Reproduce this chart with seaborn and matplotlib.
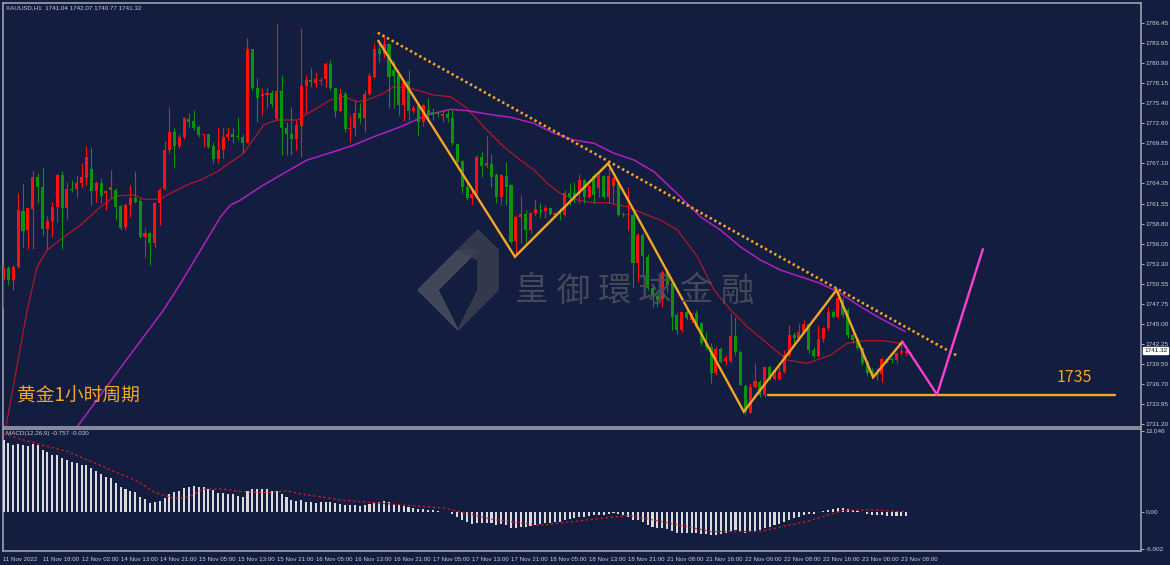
import numpy as np
import pandas as pd
import matplotlib
matplotlib.use("Agg")
import matplotlib.pyplot as plt
import seaborn as sns
from matplotlib.patches import Polygon

# ---------------- data ----------------
bar_open = [1751.06,1752.66,1751.06,1752.8,1760.6,1757.94,1760.78,1765.27,1763.9,1758.03,
 1759.2,1761.14,1765.5,1760.9,1763.6,1763.53,1764.35,1765.04,1766.28,1763.35,
 1764.35,1763.06,1763.44,1763.44,1761.24,1758.4,1761.37,1762.3,1761.97,1757.0,
 1757.57,1756.2,1761.6,1763.53,1768.94,1771.46,1769.5,1770.68,1773.2,1772.9,
 1772.15,1771.05,1771.1,1769.5,1767.66,1769.0,1770.77,1771.1,1770.8,1770.77,
 1769.95,1782.78,1777.5,1776.4,1776.5,1776.8,1773.15,1777.1,1771.9,1771.1,
 1770.4,1772.24,1777.74,1778.6,1778.2,1778.4,1778.66,1780.77,1777.42,1774.3,
 1776.7,1771.8,1771.9,1774.07,1773.3,1776.6,1779.0,1782.83,1782.14,1783.5,
 1780.0,1779.26,1775.13,1778.4,1774.35,1775.13,1772.84,1774.45,1774.2,1774.0,
 1773.6,1773.9,1773.3,1769.77,1767.47,1763.8,1762.37,1762.5,1768.0,1766.74,
 1767.0,1765.5,1762.5,1765.4,1764.13,1756.47,1759.7,1760.14,1757.94,1760.23,
 1760.7,1760.6,1760.9,1760.0,1760.5,1760.0,1763.0,1763.0,1763.0,1764.8,
 1762.43,1765.3,1763.76,1765.4,1762.5,1764.0,1764.6,1760.2,1760.0,1760.0,
 1753.35,1757.25,1754.27,1749.9,1748.8,1748.4,1752.2,1750.6,1746.25,1744.2,
 1746.6,1745.56,1746.47,1745.2,1742.35,1741.89,1738.31,1741.5,1739.96,1739.96,
 1743.36,1741.2,1736.48,1732.8,1736.4,1737.07,1735.24,1739.05,1737.45,1737.5,
 1738.45,1740.74,1743.5,1743.03,1743.95,1745.0,1741.43,1740.65,1742.9,1744.4,
 1746.7,1746.0,1748.3,1746.93,1743.5,1742.9,1741.66,1739.8,1738.6,1738.13,
 1738.13,1740.2,1740.2,1740.0,1741.0,1741.04]
bar_high = [1753.1,1752.98,1753.1,1762.98,1764.35,1761.14,1766.1,1765.8,1766.56,1759.8,
 1761.8,1765.64,1766.1,1764.6,1764.8,1765.5,1767.1,1769.5,1769.3,1764.7,
 1765.04,1763.44,1766.2,1763.67,1761.38,1761.6,1764.13,1766.1,1762.3,1758.2,
 1757.7,1761.84,1763.67,1770.2,1774.9,1771.9,1771.2,1773.5,1774.0,1774.4,
 1772.4,1771.2,1771.2,1770.1,1772.1,1771.9,1772.15,1771.9,1773.5,1771.2,
 1784.3,1782.9,1778.9,1777.4,1777.4,1777.2,1786.36,1779.25,1772.8,1774.9,
 1773.06,1785.67,1779.25,1780.2,1779.7,1779.0,1781.1,1781.3,1777.55,1777.4,
 1777.1,1773.75,1775.8,1775.35,1777.2,1779.5,1783.6,1784.07,1784.6,1783.6,
 1781.2,1779.5,1778.6,1779.9,1775.1,1775.4,1775.3,1776.05,1774.7,1774.2,
 1774.45,1774.45,1774.45,1769.86,1767.56,1764.36,1763.44,1768.25,1768.85,1770.87,
 1768.4,1765.73,1765.64,1767.34,1764.27,1760.0,1762.76,1760.7,1760.47,1762.16,
 1761.7,1761.38,1761.15,1760.47,1761.0,1763.44,1764.36,1764.6,1765.64,1765.0,
 1764.13,1765.73,1765.73,1765.5,1767.1,1765.27,1764.8,1760.47,1763.9,1760.23,
 1757.5,1757.5,1754.7,1750.37,1749.7,1752.44,1752.6,1751.1,1746.5,1746.7,
 1746.93,1746.7,1746.93,1745.3,1743.95,1742.35,1741.89,1741.89,1740.74,1746.47,
 1746.0,1741.43,1736.6,1736.85,1739.6,1737.3,1739.14,1739.37,1738.9,1739.14,
 1741.43,1744.87,1743.95,1745.1,1745.56,1745.1,1741.89,1744.87,1744.64,1747.4,
 1747.0,1749.68,1748.77,1747.15,1743.72,1743.26,1741.89,1740.0,1739.0,1738.9,
 1740.5,1740.28,1740.5,1741.2,1742.57,1742.07]
bar_low = [1747.2,1750.37,1749.7,1752.66,1755.4,1755.27,1755.27,1761.6,1757.25,1755.2,
 1757.0,1759.1,1755.27,1759.4,1763.2,1762.5,1763.9,1764.13,1761.4,1761.84,
 1761.6,1760.69,1762.3,1759.3,1757.94,1757.94,1759.77,1761.6,1756.8,1754.2,
 1753.1,1755.4,1758.6,1763.4,1768.5,1766.4,1769.2,1770.5,1772.15,1771.7,
 1770.77,1769.4,1769.2,1767.1,1767.1,1767.8,1770.3,1769.85,1770.3,1768.5,
 1769.85,1777.2,1772.8,1773.75,1774.7,1774.9,1773.06,1768.25,1768.25,1768.25,
 1768.9,1768.0,1773.98,1777.65,1777.65,1777.9,1777.4,1777.2,1773.5,1774.2,
 1771.46,1770.1,1770.8,1772.6,1771.46,1776.5,1778.9,1781.1,1781.8,1774.67,
 1774.7,1773.76,1772.9,1773.1,1774.0,1770.8,1772.2,1773.3,1773.1,1773.5,
 1772.84,1772.84,1769.6,1766.65,1763.0,1762.1,1761.38,1762.3,1765.27,1766.5,
 1763.9,1761.6,1761.38,1761.38,1756.1,1754.5,1756.1,1756.1,1757.5,1759.8,
 1759.55,1759.55,1760.0,1759.8,1759.3,1759.8,1761.38,1761.6,1761.6,1761.6,
 1762.3,1761.6,1762.5,1762.3,1761.6,1761.6,1759.8,1759.77,1757.94,1749.9,
 1750.83,1751.5,1749.7,1747.4,1747.4,1747.4,1749.4,1744.2,1743.7,1743.95,
 1745.56,1745.1,1744.4,1742.1,1741.43,1736.85,1738.0,1739.6,1739.37,1739.6,
 1740.74,1736.6,1732.5,1732.72,1736.15,1735.0,1735.0,1737.3,1737.3,1737.3,
 1738.22,1740.5,1742.35,1742.8,1743.72,1740.97,1740.28,1740.5,1742.58,1744.18,
 1745.8,1745.8,1746.0,1743.03,1742.43,1741.43,1739.37,1737.9,1737.67,1737.3,
 1737.07,1739.6,1739.6,1739.6,1740.74,1740.77]
bar_close = [1752.9,1751.06,1752.9,1760.69,1757.84,1760.9,1765.27,1763.8,1758.03,1759.2,
 1761.14,1765.5,1760.9,1763.53,1763.4,1764.45,1765.27,1767.93,1763.35,1764.35,
 1762.6,1763.35,1763.9,1761.05,1758.26,1761.37,1762.3,1761.84,1757.0,1757.57,
 1756.2,1761.6,1763.5,1768.94,1771.46,1769.5,1770.77,1773.29,1772.74,1772.0,
 1771.0,1771.15,1769.3,1767.7,1769.0,1770.77,1771.2,1770.7,1770.77,1769.95,
 1782.78,1777.5,1776.1,1776.6,1776.8,1775.2,1777.1,1771.9,1771.1,1770.4,
 1772.4,1777.74,1778.57,1778.34,1778.75,1778.6,1780.77,1777.42,1774.3,1776.7,
 1771.8,1772.0,1774.07,1773.3,1776.6,1779.1,1782.83,1782.14,1783.5,1779.0,
 1779.1,1775.13,1778.34,1774.35,1774.7,1772.84,1775.13,1773.76,1773.76,1773.9,
 1773.9,1773.3,1769.86,1767.34,1763.8,1762.3,1762.9,1768.0,1766.74,1767.1,
 1765.27,1762.5,1765.5,1763.9,1756.3,1759.7,1760.14,1757.94,1760.23,1760.76,
 1760.6,1760.9,1760.14,1760.3,1760.4,1763.0,1762.5,1762.5,1764.8,1762.43,
 1763.98,1762.74,1765.4,1762.5,1765.37,1765.04,1760.0,1760.0,1760.1,1753.35,
 1757.25,1754.3,1749.9,1748.8,1748.3,1752.2,1750.4,1746.0,1744.2,1746.6,
 1745.8,1746.47,1744.64,1742.35,1741.89,1738.31,1741.5,1739.8,1740.3,1743.36,
 1741.2,1736.6,1732.95,1736.4,1737.1,1735.24,1739.05,1737.76,1738.0,1738.45,
 1740.74,1743.5,1743.03,1743.95,1745.0,1741.43,1740.65,1742.9,1744.4,1746.7,
 1746.0,1748.54,1746.25,1743.5,1742.8,1741.66,1739.6,1738.3,1737.9,1738.0,
 1740.2,1740.0,1740.0,1741.0,1741.3,1741.32]

macd_hist = [11.54,11.0,10.68,10.84,10.68,10.57,10.9,10.7,10.0,9.55,
 9.18,9.18,8.59,8.37,8.0,7.78,7.51,7.51,7.09,6.6,
 6.07,5.64,5.37,4.67,3.97,3.6,3.38,3.11,2.42,1.99,
 1.45,1.56,1.72,2.25,2.84,3.17,3.38,3.76,3.97,4.08,
 3.97,3.92,3.65,3.44,3.06,3.06,2.9,2.79,2.58,2.42,
 3.33,3.6,3.6,3.6,3.6,3.38,3.33,2.84,2.42,1.93,
 1.72,1.88,1.6,1.5,1.4,1.5,1.6,1.6,1.4,1.3,
 1.1,1.0,1.0,0.9,1.0,1.2,1.5,1.6,1.7,1.5,
 1.3,1.0,0.9,0.7,0.6,0.4,0.4,0.3,0.2,0.1,
 0.0,-0.1,-0.4,-0.8,-1.3,-1.7,-2.0,-1.9,-1.9,-1.8,
 -1.9,-2.1,-2.0,-2.1,-2.6,-2.6,-2.5,-2.5,-2.3,-2.2,
 -2.0,-1.9,-1.8,-1.7,-1.6,-1.3,-1.2,-1.0,-0.8,-0.8,
 -0.7,-0.6,-0.5,-0.5,-0.3,-0.2,-0.4,-0.6,-0.8,-1.3,
 -1.4,-1.7,-2.1,-2.4,-2.7,-2.7,-2.8,-3.1,-3.4,-3.4,
 -3.4,-3.4,-3.5,-3.6,-3.6,-3.8,-3.7,-3.6,-3.5,-3.1,
 -3.0,-3.2,-3.5,-3.3,-3.1,-3.0,-2.6,-2.4,-2.2,-2.0,
 -1.7,-1.3,-1.0,-0.8,-0.5,-0.4,-0.3,-0.1,0.1,0.3,
 0.4,0.6,0.6,0.5,0.3,0.1,-0.1,-0.3,-0.5,-0.6,
 -0.6,-0.7,-0.7,-0.7,-0.7,-0.757]
signal_bar = [0,7,13,17,22,27,31,35,38,41,45,49,54,58,61,70,80,90,100,110,120,128,135,145,155,165,172,178,185]
signal_val = [12.5,10.9,9.7,8.4,6.7,5.1,3.1,2.15,2.4,3.6,3.65,3.2,3.06,3.33,2.84,1.8,1.2,0.6,-1.2,-2.2,-1.3,-0.6,-1.6,-3.2,-3.2,-1.5,0.2,0.3,-0.03]

ma_fast_bar = [0,4.86,6.9,8.95,12.0,15.8,19.9,22.95,26.7,28.75,32.2,33.5,37.6,40.4,43.8,47.2,49.2,53.3,56.1,60.2,63.6,67.0,69.7,72.5,74.5,77.9,79.9,83.4,88.1,91.6,95.0,98.4,102.5,105.9,108.7,111.4,114.1,117.6,121.0,123.7,127.8,131.9,134.6,138.1,142.2,145.6,149.0,152.4,156.5,160.6,164.7,169.5,172.9,176.3,180.4,183.8]
ma_fast_val = [1729.0,1746.93,1752.89,1755.18,1756.79,1758.62,1761.14,1762.61,1762.75,1762.16,1762.16,1762.75,1764.13,1764.82,1765.95,1767.56,1768.49,1772.38,1773.07,1773.07,1774.44,1775.82,1776.27,1775.58,1775.82,1776.74,1777.65,1777.43,1776.51,1776.27,1774.68,1772.14,1769.39,1767.56,1766.19,1764.36,1762.98,1762.06,1761.69,1761.69,1761.14,1760.0,1759.31,1757.94,1754.26,1749.68,1746.93,1744.63,1742.35,1740.05,1739.6,1740.74,1742.35,1742.71,1742.71,1742.35]
ma_slow_bar = [14.7,24.0,32.8,36.3,40.4,44.5,46.5,48.6,52.7,57.4,62.2,67.7,71.8,75.9,81.4,86.8,91.6,95.0,100.5,103.9,108.7,112.8,116.9,121.0,125.1,129.2,133.3,138.7,142.8,146.9,151.0,155.1,159.2,163.3,167.4,171.5,175.6,179.7,184.8]
ma_slow_val = [1730.5,1739.0,1746.93,1750.6,1755.18,1759.76,1761.37,1762.06,1763.89,1765.73,1767.56,1768.71,1769.63,1770.77,1772.14,1773.75,1774.54,1774.35,1773.75,1773.44,1772.61,1771.24,1770.32,1769.86,1768.49,1767.56,1765.95,1762.52,1759.77,1757.94,1755.64,1753.81,1752.43,1751.51,1750.6,1749.23,1747.39,1745.79,1743.95]

zigzag_bar = [76.8,104.8,123.9,151.7,170.7,178.2,184.2]
zigzag_price = [1783.97,1754.26,1767.1,1732.95,1749.68,1737.67,1742.57]
forecast_bar = [184.2,191.3,200.7]
forecast_price = [1742.57,1735.3,1755.3]
trend_bar = [76.7,195.4]
trend_price = [1785.07,1740.66]
support_bar = [156.7,227.8]
support_price = [1735.3,1735.3]

price_ticks = [1786.45,1783.65,1780.90,1778.15,1775.40,1772.60,1769.85,1767.10,1764.35,1761.55,
               1758.80,1756.05,1753.30,1750.55,1747.75,1745.00,1742.25,1739.50,1736.70,1733.95,1731.20]
time_labels = ["11 Nov 2022","11 Nov 18:00","12 Nov 02:00","14 Nov 13:00","14 Nov 21:00","15 Nov 05:00",
               "15 Nov 13:00","15 Nov 21:00","16 Nov 05:00","16 Nov 13:00","16 Nov 21:00","17 Nov 05:00",
               "17 Nov 13:00","17 Nov 21:00","18 Nov 05:00","18 Nov 13:00","18 Nov 21:00","21 Nov 08:00",
               "21 Nov 16:00","22 Nov 00:00","22 Nov 08:00","22 Nov 16:00","23 Nov 00:00","23 Nov 08:00"]
last_price = 1741.32

# ---------------- style ----------------
sns.set_theme(style="dark")
plt.rcParams['font.family'] = ['Liberation Sans', 'DejaVu Sans']
BG = '#121d3f'
FG = '#c9ccd4'
EDGE = '#9aa0ab'
UP = '#ff1010'
DN = '#0c920c'
ORANGE = '#f5a623'

W, H = 1170, 565
fig = plt.figure(figsize=(W / 100, H / 100), dpi=100, facecolor=BG)
ax = fig.add_axes([3 / W, 1 - 427 / H, 1138 / W, 424 / H], facecolor=BG)
ax2 = fig.add_axes([3 / W, 1 - 551 / H, 1138 / W, 122 / H], facecolor=BG)

df = pd.DataFrame({'o': bar_open, 'h': bar_high, 'l': bar_low, 'c': bar_close})
df['i'] = np.arange(len(df))
df['up'] = df['c'] >= df['o']

# candles
wick_col = np.where(df['up'], UP, DN)
ax.vlines(df['i'], df['l'], df['h'], colors=wick_col, lw=0.8, zorder=3)
body_bottom = np.minimum(df['o'], df['c'])
body_h = np.maximum(np.abs(df['c'] - df['o']), 0.12)
ax.bar(df['i'], body_h, bottom=body_bottom, width=0.62, color=wick_col, linewidth=0, zorder=4)

# moving averages
sns.lineplot(x=ma_fast_bar, y=ma_fast_val, ax=ax, color='#b3152b', lw=0.9, sort=False, estimator=None, zorder=2)
sns.lineplot(x=ma_slow_bar, y=ma_slow_val, ax=ax, color='#b21fc0', lw=1.1, sort=False, estimator=None, zorder=2)

# drawings
ax.plot(trend_bar, trend_price, color=ORANGE, lw=1.9, linestyle=(0, (0.9, 1.1)), zorder=6)
ax.plot(zigzag_bar, zigzag_price, color=ORANGE, lw=1.7, solid_joinstyle='miter', zorder=7)
ax.plot(support_bar, support_price, color=ORANGE, lw=1.7, zorder=6)
ax.plot(forecast_bar, forecast_price, color='#ff3fd0', lw=1.7, zorder=7)

ax.text(215.9, 1737.7, "1735", color=ORANGE, fontsize=11.5, va='center', ha='left',
        family=['Noto Sans CJK SC', 'DejaVu Sans'], zorder=8)
fig.text(17 / W, 1 - 396 / H, "黄金1小时周期", color=ORANGE, fontsize=13.5, va='center', ha='left',
         family=['Noto Sans CJK SC', 'DejaVu Sans'])

# watermark
wm_col = '#4a4f5e'
for k, ch in enumerate("皇御環球金融"):
    fig.text((532 + 41 * k) / W, 1 - 291 / H, ch, color=wm_col, fontsize=24, ha='center', va='center',
             family=['Noto Sans CJK TC', 'Noto Sans CJK SC'], alpha=0.9, zorder=1)
logo1 = Polygon([[418 / W, 1 - 290 / H], [458 / W, 1 - 250 / H], [478 / W, 1 - 250 / H], [438 / W, 1 - 290 / H], [458 / W, 1 - 330 / H], [418 / W, 1 - 290 / H]],
                closed=True, transform=fig.transFigure, color=wm_col, alpha=0.85, zorder=1)
logo2 = Polygon([[458 / W, 1 - 250 / H], [478 / W, 1 - 230 / H], [498 / W, 1 - 250 / H], [498 / W, 1 - 290 / H], [458 / W, 1 - 330 / H], [478 / W, 1 - 290 / H], [478 / W, 1 - 260 / H]],
                closed=True, transform=fig.transFigure, color='#3a3f4d', alpha=0.85, zorder=1)
fig.patches.extend([logo1, logo2])

# axes limits
ax.set_xlim(-0.1, 233.1)
ax.set_ylim(1730.84, 1789.16)
ax2.set_xlim(-0.1, 233.1)
ax2.set_ylim(-6.33, 13.3)

# MACD
ax2.bar(np.arange(len(macd_hist)), macd_hist, width=0.42, color='#d9d9de', linewidth=0, zorder=3)
sns.lineplot(x=signal_bar, y=signal_val, ax=ax2, color='#d41a1a', lw=0.9, sort=False, estimator=None,
             linestyle=(0, (2, 2)), zorder=4)

# ticks / labels
for a in (ax, ax2):
    a.grid(False)
    for s in a.spines.values():
        s.set_color(EDGE)
        s.set_linewidth(1.2)
    a.set_xlabel('')
    a.set_ylabel('')

ax.yaxis.tick_right()
ax.set_yticks(price_ticks)
ax.set_yticklabels([f"{v:.2f}" for v in price_ticks])
ax.tick_params(axis='y', colors=FG, labelsize=4.6, length=2, width=0.6, pad=1.5, direction='out', right=True, left=False)
ax.tick_params(axis='x', bottom=False, labelbottom=False)

ax2.yaxis.tick_right()
ax2.set_yticks([13.046, 0.0, -6.002])
ax2.set_yticklabels(["13.046", "0.00", "-6.002"])
ax2.tick_params(axis='y', colors=FG, labelsize=4.6, length=2, width=0.6, pad=1.5, direction='out', right=True, left=False)
ticks = np.arange(0, 8 * len(time_labels), 8)
ax2.set_xticks(ticks)
ax2.set_xticklabels(time_labels)
ax2.tick_params(axis='x', colors=FG, labelsize=4.4, length=3, width=0.6, pad=1, direction='out')
for lab in ax2.get_xticklabels():
    lab.set_horizontalalignment('left')

ax.text(1.003, last_price, f"{last_price:.2f}", transform=ax.get_yaxis_transform(), fontsize=4.6,
        color='#101010', va='center', ha='left',
        bbox=dict(boxstyle='square,pad=0.15', fc='white', ec='white'), zorder=10, clip_on=False)

fig.text(6 / W, 1 - 7.5 / H, "XAUUSD,H1  1741.04 1742.07 1740.77 1741.32", color=FG, fontsize=4.5, va='center')
fig.text(6 / W, 1 - 433.5 / H, "MACD(12,26,9) -0.757 -0.030", color=FG, fontsize=4.5, va='center')

fig.savefig("out.png", dpi=100, facecolor=BG)
